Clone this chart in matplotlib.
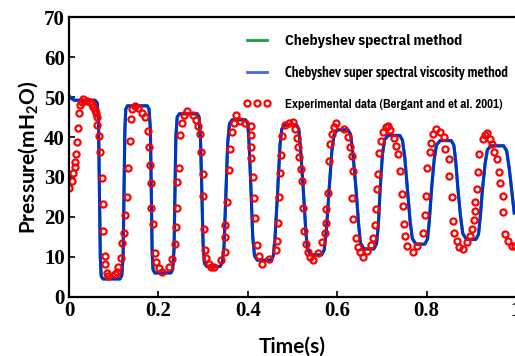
import matplotlib
matplotlib.use("Agg")
import matplotlib.pyplot as plt
from matplotlib import font_manager as fm
from matplotlib.font_manager import FontProperties
from matplotlib.lines import Line2D

# simulated pressure (both methods overlap)
sim_t = [0.000, 0.006, 0.012, 0.058, 0.063, 0.066, 0.068, 0.070, 0.072, 0.076,
         0.114, 0.118, 0.121, 0.123, 0.125, 0.127, 0.131,
         0.175, 0.179, 0.182, 0.184, 0.186, 0.188, 0.192,
         0.228, 0.232, 0.235, 0.237, 0.239, 0.242, 0.247,
         0.287, 0.291, 0.294, 0.297, 0.300, 0.303, 0.308,
         0.338, 0.343, 0.347, 0.351, 0.355, 0.359, 0.365,
         0.395, 0.400, 0.403, 0.407, 0.411, 0.415, 0.421,
         0.452, 0.457, 0.461, 0.467, 0.472, 0.476, 0.483,
         0.509, 0.514, 0.518, 0.524, 0.530, 0.534, 0.541,
         0.565, 0.571, 0.576, 0.582, 0.588, 0.593, 0.600,
         0.624, 0.630, 0.635, 0.642, 0.648, 0.652, 0.660,
         0.682, 0.688, 0.692, 0.696, 0.701, 0.706, 0.714,
         0.740, 0.746, 0.751, 0.757, 0.763, 0.768, 0.776,
         0.796, 0.802, 0.806, 0.811, 0.817, 0.822, 0.830,
         0.855, 0.861, 0.865, 0.870, 0.876, 0.881, 0.889,
         0.910, 0.916, 0.920, 0.925, 0.931, 0.936, 0.944,
         0.972, 0.979, 0.985, 0.991, 0.996]
sim_p = [50.3, 49.6, 49.2, 49.2, 48.6, 44.0, 27.0, 10.0, 5.2, 4.5,
         4.5, 5.3, 10.0, 26.0, 42.0, 47.0, 47.8,
         47.8, 47.0, 42.0, 27.0, 11.0, 6.8, 6.0,
         6.0, 6.9, 12.0, 26.0, 40.0, 45.0, 45.8,
         45.8, 45.0, 40.0, 27.0, 13.0, 8.4, 7.6,
         7.6, 8.6, 13.0, 26.0, 38.5, 43.3, 44.3,
         44.3, 43.3, 38.0, 27.0, 15.0, 10.3, 9.2,
         9.2, 10.3, 15.0, 27.0, 38.0, 42.0, 43.0,
         43.0, 42.0, 37.0, 27.0, 16.0, 11.8, 10.5,
         10.5, 11.8, 17.0, 27.0, 36.5, 40.6, 41.8,
         41.8, 40.6, 36.0, 27.0, 18.0, 13.5, 12.0,
         12.0, 13.3, 18.0, 27.0, 35.5, 39.3, 40.4,
         40.4, 39.2, 35.0, 27.0, 19.0, 14.6, 13.2,
         13.2, 14.5, 19.0, 27.0, 34.5, 38.0, 39.1,
         39.1, 37.9, 34.0, 27.0, 20.0, 15.8, 14.4,
         14.4, 15.6, 20.0, 27.0, 33.5, 36.8, 37.8,
         37.8, 36.6, 32.0, 26.0, 21.0]

# experimental data (Bergant et al. 2001)
exp_t = [0.001, 0.006, 0.010, 0.013, 0.014, 0.015, 0.017, 0.019, 0.022, 0.025,
         0.028, 0.032, 0.040, 0.046, 0.051, 0.054, 0.058, 0.060, 0.062, 0.063,
         0.068, 0.069, 0.073, 0.075, 0.077, 0.080, 0.081, 0.084, 0.088, 0.103,
         0.107, 0.110, 0.116, 0.118, 0.122, 0.125, 0.129, 0.133, 0.137, 0.139,
         0.140, 0.148, 0.155, 0.163, 0.169, 0.176, 0.180, 0.182, 0.184, 0.184,
         0.187, 0.192, 0.195, 0.201, 0.208, 0.223, 0.230, 0.236, 0.239, 0.242,
         0.242, 0.245, 0.248, 0.253, 0.257, 0.264, 0.277, 0.283, 0.289, 0.294,
         0.296, 0.299, 0.299, 0.301, 0.305, 0.307, 0.313, 0.318, 0.324, 0.341,
         0.348, 0.348, 0.350, 0.354, 0.359, 0.361, 0.365, 0.368, 0.374, 0.382,
         0.394, 0.406, 0.406, 0.408, 0.408, 0.411, 0.413, 0.415, 0.421, 0.424,
         0.432, 0.447, 0.462, 0.465, 0.468, 0.469, 0.473, 0.474, 0.477, 0.483,
         0.493, 0.500, 0.505, 0.510, 0.512, 0.515, 0.518, 0.521, 0.524, 0.526,
         0.531, 0.535, 0.540, 0.545, 0.556, 0.567, 0.572, 0.575, 0.575, 0.579,
         0.581, 0.583, 0.588, 0.592, 0.598, 0.615, 0.624, 0.629, 0.632, 0.635,
         0.633, 0.636, 0.643, 0.647, 0.651, 0.658, 0.667, 0.675, 0.681, 0.685,
         0.687, 0.689, 0.691, 0.694, 0.697, 0.702, 0.708, 0.714, 0.719, 0.727,
         0.732, 0.736, 0.741, 0.744, 0.747, 0.749, 0.752, 0.757, 0.769, 0.779,
         0.791, 0.796, 0.799, 0.801, 0.807, 0.810, 0.814, 0.820, 0.831, 0.838,
         0.842, 0.849, 0.851, 0.857, 0.860, 0.862, 0.867, 0.873, 0.881, 0.890,
         0.896, 0.901, 0.905, 0.908, 0.909, 0.913, 0.915, 0.918, 0.925, 0.930,
         0.935, 0.941, 0.946, 0.950, 0.958, 0.961, 0.965, 0.970, 0.970, 0.975,
         0.983, 0.990, 0.997]
exp_p = [27.3, 29.1, 31.1, 32.4, 33.8, 35.7, 38.8, 42.3, 46.1, 48.0,
         48.7, 49.4, 49.0, 48.8, 48.3, 47.4, 46.8, 45.9, 44.9, 43.0,
         40.3, 36.3, 29.7, 23.2, 16.5, 10.3, 8.3, 5.9, 5.3, 5.8,
         6.3, 7.4, 9.7, 13.4, 15.9, 20.4, 24.9, 32.3, 39.0, 44.4,
         46.9, 47.8, 47.2, 46.1, 44.9, 41.6, 37.6, 33.0, 28.4, 22.2,
         18.2, 11.1, 8.8, 7.2, 6.3, 7.6, 9.4, 13.2, 17.6, 22.2,
         28.7, 32.3, 40.5, 43.4, 45.5, 46.6, 45.5, 44.3, 42.8, 40.8,
         36.2, 30.7, 25.3, 16.9, 11.8, 9.7, 8.3, 7.6, 7.4, 9.3,
         11.3, 15.1, 18.0, 23.7, 31.8, 37.0, 41.3, 43.4, 45.5, 44.0,
         43.6, 42.8, 40.5, 37.6, 34.7, 29.9, 24.7, 19.8, 13.0, 10.3,
         8.3, 9.5, 11.8, 14.1, 18.4, 24.9, 30.9, 35.5, 40.3, 43.1,
         43.4, 43.7, 41.9, 39.7, 37.6, 35.1, 32.0, 29.0, 22.3, 16.5,
         13.2, 11.2, 10.1, 9.3, 10.9, 13.8, 15.9, 18.6, 21.9, 26.1,
         34.1, 38.2, 40.7, 42.6, 43.4, 41.9, 40.1, 37.4, 35.3, 31.6,
         24.7, 19.4, 14.8, 12.4, 11.2, 10.1, 11.5, 13.0, 14.8, 18.0,
         22.0, 26.9, 30.7, 35.9, 39.0, 41.3, 42.4, 42.8, 41.8, 39.8,
         37.7, 35.7, 31.6, 25.7, 22.8, 18.3, 15.3, 12.8, 11.2, 12.8,
         16.0, 20.6, 25.3, 32.2, 36.2, 38.6, 40.7, 41.9, 41.2, 39.9,
         36.9, 34.4, 30.3, 25.1, 19.1, 16.0, 14.1, 12.6, 11.9, 13.8,
         15.3, 16.9, 19.3, 21.6, 23.7, 26.9, 31.2, 35.7, 39.4, 40.5,
         40.9, 39.4, 38.2, 36.2, 34.5, 31.3, 28.4, 25.3, 21.3, 15.8,
         14.0, 12.8, 12.7]

x_ticks = [0, 0.2, 0.4, 0.6, 0.8, 1.0]
x_ticklabels = ["0", "0.2", "0.4", "0.6", "0.8", "1"]
y_ticks = [0, 10, 20, 30, 40, 50, 60, 70]
labels = ["Chebyshev spectral method",
          "Chebyshev super spectral viscosity method",
          "Experimental data (Bergant and et al. 2001)"]
label_widths = [177, 223, 216]  # px, as in the original legend
LEG_SIZE = 10.8


def bold_faces(r):
    # condensed, proportional sans bold faces, plus Lato as fallback
    faces = []
    for f in fm.fontManager.ttflist:
        if f.stretch != "condensed" or f.style != "normal":
            continue
        if str(f.weight) not in ("700", "bold"):
            continue
        fp = FontProperties(fname=f.fname, size=10)
        wi = r.get_text_width_height_descent("iiiiii", fp, ismath=False)[0]
        wm = r.get_text_width_height_descent("mmmmmm", fp, ismath=False)[0]
        if wm < 1.6 * wi:  # monospaced
            continue
        faces.append(fp)
    faces.append(FontProperties(family="Lato", weight="bold"))
    return faces


plt.rcParams["mathtext.fontset"] = "custom"
plt.rcParams["mathtext.rm"] = "Lato:bold"
plt.rcParams["mathtext.it"] = "Lato:bold"
plt.rcParams["mathtext.bf"] = "Lato:bold"

fig = plt.figure(figsize=(5.15, 3.56), dpi=100)
ax = fig.add_axes([0.134, 0.166, 0.868, 0.786])

ax.plot(sim_t, sim_p, color="#12a33a", lw=2.2)
ax.plot(sim_t, sim_p, color="#0033cc", lw=2.2)
ax.plot(exp_t, exp_p, ls="none", marker="o", ms=4.4, mfc="none",
        mec="#ff0000", mew=1.6)

ax.set_xlim(0, 1)
ax.set_ylim(0, 70)
ax.set_xticks(x_ticks)
ax.set_xticklabels(x_ticklabels)
ax.set_yticks(y_ticks)
for lab in ax.get_xticklabels() + ax.get_yticklabels():
    lab.set_family("Liberation Serif")
    lab.set_weight("bold")
    lab.set_fontsize(15)
ax.tick_params(direction="in", length=4, width=1.2, pad=3)
for s in ax.spines.values():
    s.set_linewidth(1.6)

ax.set_xlabel("Time(s)", family="Lato", weight="bold", fontsize=15, labelpad=11)
ax.set_ylabel("Pressure(mH$_2$O)", family="Lato", weight="bold", fontsize=15,
              labelpad=3)

handles = [Line2D([], [], color="#12a33a", lw=2),
           Line2D([], [], color="#4466ee", lw=2),
           Line2D([], [], ls="none", marker="o", ms=4.4, mfc="none",
                  mec="#ff0000", mew=1.6)]
leg = ax.legend(handles, labels, loc="upper left",
                bbox_to_anchor=(0.388, 0.94), frameon=False, numpoints=3,
                handlelength=2.1, handletextpad=0.95, labelspacing=1.3,
                borderpad=0, borderaxespad=0,
                prop=FontProperties(family="Lato", weight="bold", size=10))

# per label: pick the face whose natural width is nearest the original,
# then trim the size to match it
fig.canvas.draw()
r = fig.canvas.get_renderer()
faces = bold_faces(r)
for txt, w in zip(leg.get_texts(), label_widths):
    best = None
    for fp in faces:
        fp = fp.copy()
        fp.set_size(LEG_SIZE)
        txt.set_fontproperties(fp)
        cur = txt.get_window_extent(r).width
        if best is None or abs(cur - w) < abs(best[1] - w):
            best = (fp, cur)
    fp, cur = best
    fp.set_size(LEG_SIZE * w / cur)
    txt.set_fontproperties(fp)

fig.savefig("out.png", dpi=100)
